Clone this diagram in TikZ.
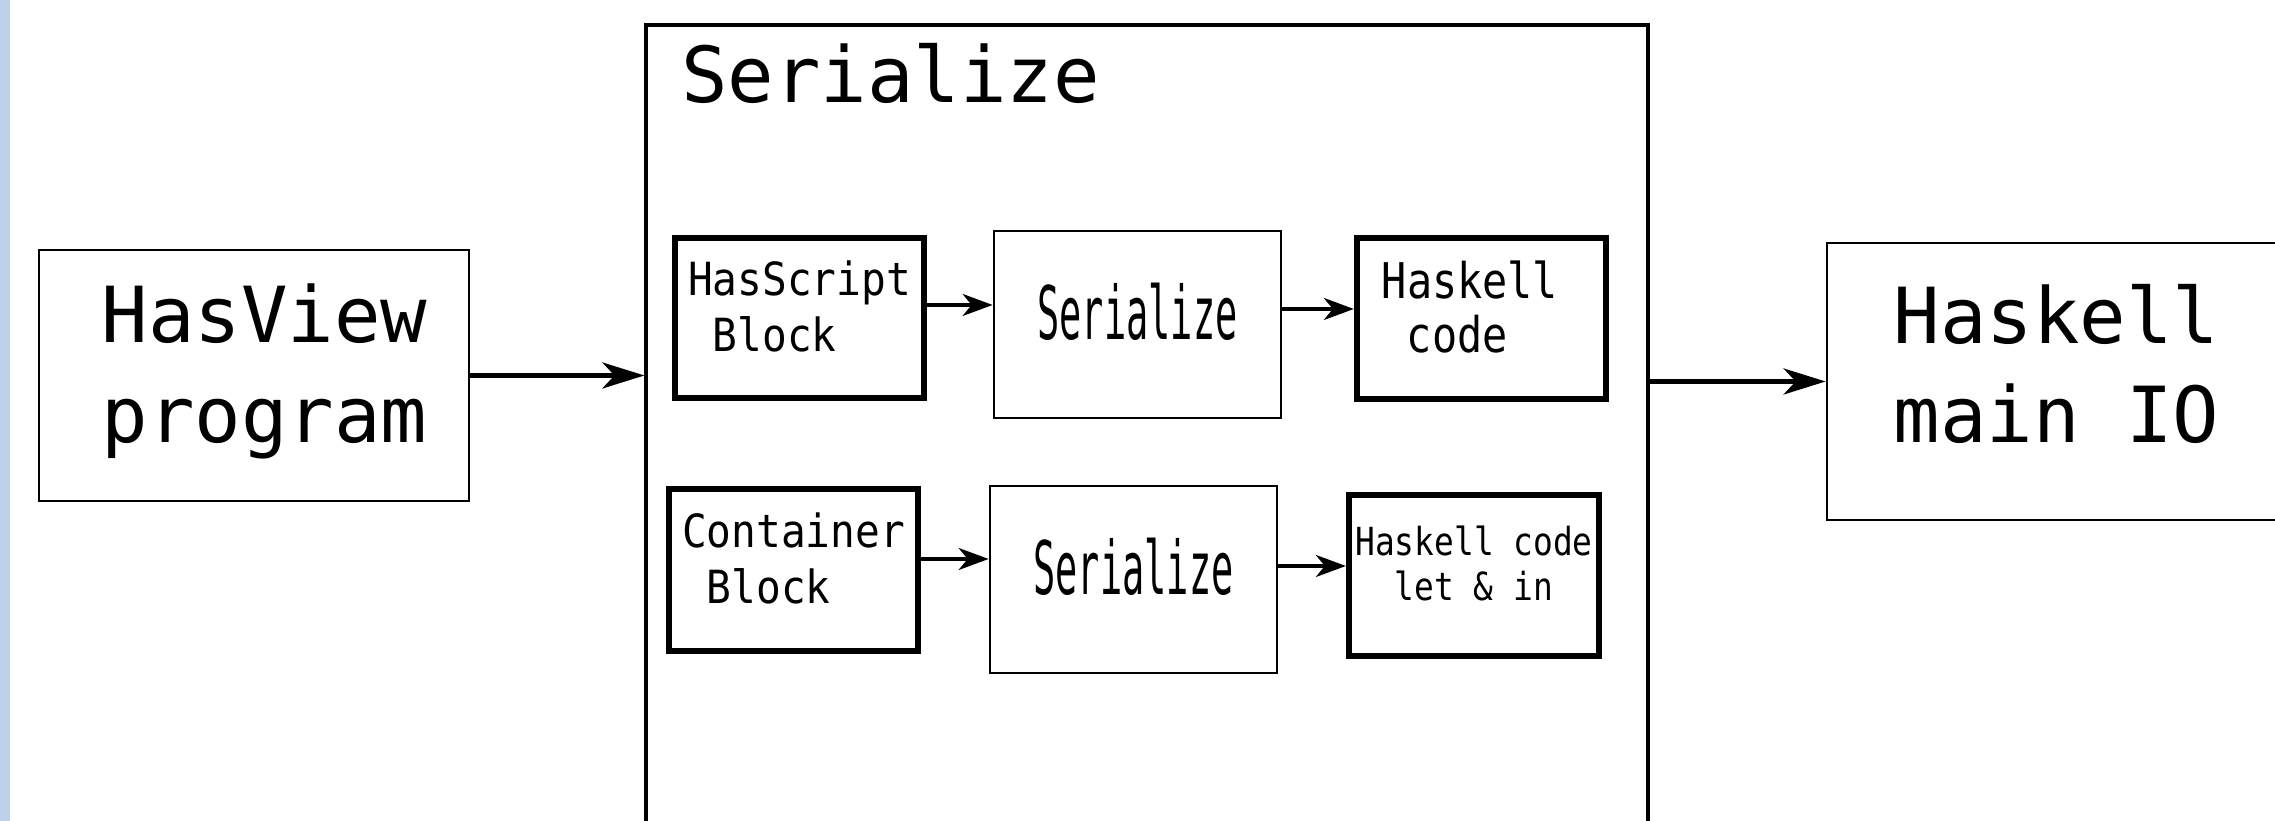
\documentclass[tikz,border=0pt]{standalone}
\usepackage{fontspec}
\usepackage{tikz}
\usetikzlibrary{arrows.meta}
\usetikzlibrary{positioning}
\usetikzlibrary{calc}
\newfontfamily\dejamono{DejaVu Sans Mono}
\newfontfamily\dejablock[FakeStretch=0.9]{DejaVu Sans Mono}
\newfontfamily\dejanarrow[FakeStretch=0.85]{DejaVu Sans Mono}
\newfontfamily\dejasqueeze[FakeStretch=0.5]{DejaVu Sans Mono}
\definecolor{stripblue}{RGB}{190,208,234}
% extra depth under the last line, lifts the text inside a box
\newcommand{\lift}[1]{\rule[-#1]{0pt}{#1}}
\tikzstyle{box}=[draw,line width=0.8pt,inner sep=0pt,align=left]
\tikzstyle{thickbox}=[box,line width=1.8pt]
\tikzstyle{bigtext}=[font=\dejamono\fontsize{22}{28.4}\selectfont]
\tikzstyle{blocktext}=[font=\dejablock\fontsize{13}{16}\selectfont]
\tikzstyle{codetext}=[font=\dejanarrow\fontsize{14}{15.5}\selectfont]
\tikzstyle{smallcodetext}=[font=\dejanarrow\fontsize{11}{12.8}\selectfont]
\tikzstyle{stagetext}=[font=\dejasqueeze\fontsize{21}{25}\selectfont]
\tikzstyle{edge} = [draw,line width=1.3pt,-{Stealth[length=4.2mm,width=2.6mm,inset=1.2mm]}]
\tikzstyle{smalledge} = [draw,line width=0.9pt,-{Stealth[length=3mm,width=2.2mm,inset=0.9mm]}]

\begin{document}
\begin{tikzpicture}
    \useasboundingbox (0,0) rectangle (22.75,8.21);
    \clip (0,0) rectangle (22.75,8.21);
    \fill[stripblue] (0,0) rectangle (0.10,8.21);

    % Outer boxes first
    \node[box,bigtext,minimum width=4.30cm,minimum height=2.51cm] (view) at (2.54,4.455) {\hspace*{2.1mm}HasView\\\hspace*{2.1mm}program\lift{2.4mm}};
    \node[box,line width=0.9pt,minimum width=10.02cm,minimum height=8.36cm] (serialize) at (11.47,3.78) {};
    \node[bigtext,anchor=base west,inner sep=0pt] (title) at ($(serialize.north west)+(0.36,-0.79)$) {Serialize};
    \node[box,bigtext,minimum width=4.59cm,minimum height=2.77cm] (mainio) at (20.565,4.395) {Haskell\\main IO\lift{3.6mm}};

    % Then the blocks inside Serialize
    \node[thickbox,blocktext,minimum width=2.49cm,minimum height=1.60cm] (hasscript) at (7.995,5.03) {HasScript\\\hspace*{0.54em}Block\lift{2.4mm}};
    \node[thickbox,blocktext,minimum width=2.49cm,minimum height=1.62cm] (container) at (7.935,2.51) {Container\\\hspace*{0.54em}Block\lift{2.4mm}};
    \foreach \pos/\name in {{(11.375,4.965)/serial1}, {(11.335,2.415)/serial2}}
        \node[box,stagetext,minimum width=2.87cm,minimum height=1.87cm] (\name) at \pos {Serialize\lift{2.6mm}};
    \node[thickbox,codetext,minimum width=2.49cm,minimum height=1.61cm] (code1) at (14.815,5.025) {Haskell\hspace*{2.3mm}\\\hspace*{0.51em}code\lift{2.4mm}};
    \node[thickbox,smallcodetext,align=center,minimum width=2.50cm,minimum height=1.61cm] (code2) at (14.74,2.455) {Haskell code\\let \& in\lift{2.4mm}};

    % Connect them
    \draw[edge] (view.east) -- (view.east -| serialize.west);
    \draw[edge] (mainio.west -| serialize.east) -- (mainio.west);
    \foreach \source/\dest/\shift in {hasscript/serial1/1.3mm, serial1/code1/1.55mm, container/serial2/1.1mm, serial2/code2/1.35mm}
        \draw[smalledge] ([yshift=\shift]\source.east) -- ([yshift=\shift]\source.east -| \dest.west);
\end{tikzpicture}
\end{document}
